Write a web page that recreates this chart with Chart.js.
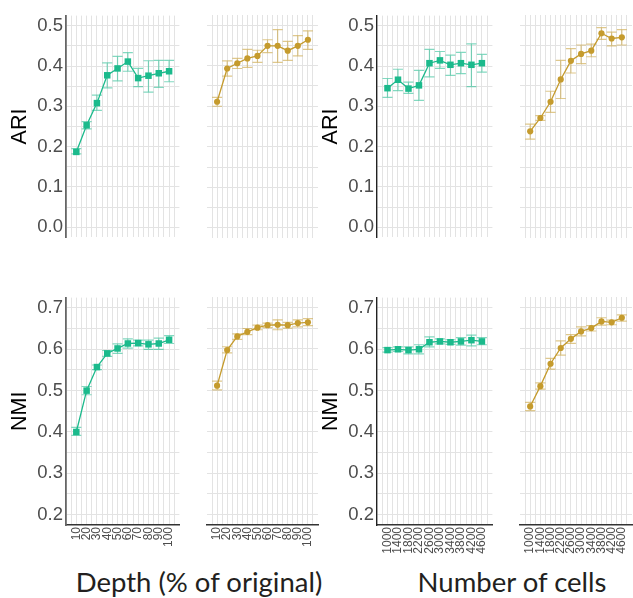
<!DOCTYPE html>
<html>
<head>
<meta charset="utf-8">
<script src="https://cdn.jsdelivr.net/npm/chart.js@4.4.1/dist/chart.umd.min.js"></script>
<style>
  html, body { margin: 0; padding: 0; background: #fff; }
  #stage { position: relative; width: 633px; height: 598px; overflow: hidden; }
  #stage canvas { position: absolute; }
  .xtitle {
    position: absolute; top: 568px; transform: translateX(-50%);
    font-family: "Lato", sans-serif; font-size: 27.5px; line-height: 27px;
    color: #231f20; white-space: nowrap;
  }
</style>
</head>
<body>
<div id="stage">
  <div class="xtitle" style="left:199px">Depth (% of original)</div>
  <div class="xtitle" style="left:512px">Number of cells</div>
</div>
<script>
/* 2x4 grid of small ggplot-style panels: ARI / NMI vs depth and number of cells */

const depthPct = [10, 20, 30, 40, 50, 60, 70, 80, 90, 100];
const cellCounts = [1000, 1400, 1800, 2200, 2600, 3000, 3400, 3800, 4200, 4600];

const ariTicks = [0.0, 0.1, 0.2, 0.3, 0.4, 0.5];
const nmiTicks = [0.2, 0.3, 0.4, 0.5, 0.6, 0.7];

// ARI vs depth
const ariDepthGreen   = [0.187, 0.253, 0.308, 0.377, 0.394, 0.411, 0.370, 0.376, 0.382, 0.387];
const ariDepthGreenLo = [0.182, 0.244, 0.290, 0.346, 0.363, 0.387, 0.349, 0.335, 0.347, 0.361];
const ariDepthGreenHi = [0.195, 0.262, 0.328, 0.408, 0.424, 0.433, 0.394, 0.413, 0.414, 0.414];
const ariDepthGold    = [0.311, 0.393, 0.406, 0.418, 0.424, 0.449, 0.449, 0.437, 0.449, 0.464];
const ariDepthGoldLo  = [0.300, 0.374, 0.393, 0.396, 0.408, 0.432, 0.408, 0.413, 0.424, 0.440];
const ariDepthGoldHi  = [0.322, 0.412, 0.418, 0.440, 0.438, 0.464, 0.489, 0.460, 0.474, 0.486];

// ARI vs number of cells
const ariCellsGreen   = [0.345, 0.366, 0.344, 0.352, 0.407, 0.414, 0.403, 0.407, 0.403, 0.407];
const ariCellsGreenLo = [0.322, 0.339, 0.332, 0.315, 0.373, 0.394, 0.377, 0.381, 0.349, 0.385];
const ariCellsGreenHi = [0.369, 0.392, 0.360, 0.389, 0.441, 0.436, 0.427, 0.434, 0.455, 0.429];
const ariCellsGold    = [0.238, 0.271, 0.311, 0.366, 0.412, 0.429, 0.437, 0.480, 0.467, 0.470];
const ariCellsGoldLo  = [0.219, 0.265, 0.285, 0.319, 0.382, 0.405, 0.422, 0.465, 0.449, 0.451];
const ariCellsGoldHi  = [0.256, 0.277, 0.337, 0.413, 0.442, 0.451, 0.453, 0.494, 0.483, 0.489];

// NMI vs depth
const nmiDepthGreen   = [0.400, 0.500, 0.557, 0.590, 0.602, 0.614, 0.615, 0.612, 0.614, 0.623];
const nmiDepthGreenLo = [0.392, 0.490, 0.551, 0.583, 0.590, 0.603, 0.608, 0.600, 0.600, 0.614];
const nmiDepthGreenHi = [0.411, 0.510, 0.562, 0.597, 0.613, 0.625, 0.622, 0.622, 0.627, 0.633];
const nmiDepthGold    = [0.511, 0.597, 0.630, 0.641, 0.651, 0.657, 0.658, 0.657, 0.662, 0.664];
const nmiDepthGoldLo  = [0.501, 0.590, 0.623, 0.634, 0.646, 0.651, 0.646, 0.650, 0.653, 0.656];
const nmiDepthGoldHi  = [0.522, 0.605, 0.636, 0.649, 0.657, 0.662, 0.670, 0.664, 0.670, 0.673];

// NMI vs number of cells
const nmiCellsGreen   = [0.598, 0.600, 0.598, 0.600, 0.617, 0.619, 0.617, 0.619, 0.622, 0.619];
const nmiCellsGreenLo = [0.593, 0.595, 0.589, 0.589, 0.606, 0.613, 0.612, 0.610, 0.608, 0.611];
const nmiCellsGreenHi = [0.604, 0.606, 0.606, 0.611, 0.630, 0.625, 0.623, 0.628, 0.634, 0.628];
const nmiCellsGold    = [0.461, 0.510, 0.564, 0.602, 0.624, 0.642, 0.650, 0.666, 0.664, 0.675];
const nmiCellsGoldLo  = [0.451, 0.503, 0.551, 0.585, 0.613, 0.631, 0.643, 0.657, 0.658, 0.667];
const nmiCellsGoldHi  = [0.471, 0.518, 0.577, 0.619, 0.634, 0.653, 0.656, 0.675, 0.669, 0.682];

const GREEN = "#1bba8c";
const GREEN_ERR = "rgba(27,186,140,0.55)";
const GOLD = "#c59b2d";
const GOLD_ERR = "rgba(197,155,45,0.55)";
const FONT = "'Liberation Sans', Arial, sans-serif";
const GRID = "#e3e3e3";

// panel geometry (px)
const columns = [
  { left: 66, width: 118, axisW: 66, axisColor: "#666", axisWidth: 1.8 },
  { left: 203, width: 119, axisW: 0 },
  { left: 377, width: 120, axisW: 66, axisColor: "#222", axisWidth: 1.4 },
  { left: 516, width: 120, axisW: 0 },
];
const rows = [
  { top: 11, height: 231, title: "ARI", ticks: ariTicks, min: -0.025, max: 0.525, xAxis: false },
  { top: 293, height: 232, title: "NMI", ticks: nmiTicks, min: 0.175, max: 0.725, xAxis: true },
];
const X_AXIS_H = 34;

const panels = [
  { row: 0, col: 0, xs: depthPct, ys: ariDepthGreen, lo: ariDepthGreenLo, hi: ariDepthGreenHi, kind: "green" },
  { row: 0, col: 1, xs: depthPct, ys: ariDepthGold, lo: ariDepthGoldLo, hi: ariDepthGoldHi, kind: "gold" },
  { row: 0, col: 2, xs: cellCounts, ys: ariCellsGreen, lo: ariCellsGreenLo, hi: ariCellsGreenHi, kind: "green" },
  { row: 0, col: 3, xs: cellCounts, ys: ariCellsGold, lo: ariCellsGoldLo, hi: ariCellsGoldHi, kind: "gold" },
  { row: 1, col: 0, xs: depthPct, ys: nmiDepthGreen, lo: nmiDepthGreenLo, hi: nmiDepthGreenHi, kind: "green" },
  { row: 1, col: 1, xs: depthPct, ys: nmiDepthGold, lo: nmiDepthGoldLo, hi: nmiDepthGoldHi, kind: "gold" },
  { row: 1, col: 2, xs: cellCounts, ys: nmiCellsGreen, lo: nmiCellsGreenLo, hi: nmiCellsGreenHi, kind: "green" },
  { row: 1, col: 3, xs: cellCounts, ys: nmiCellsGold, lo: nmiCellsGoldLo, hi: nmiCellsGoldHi, kind: "gold" },
];

// major values plus half-step minor lines, like ggplot's minor grid
const withMinor = (values, min, max) => {
  const step = values[1] - values[0];
  const out = [];
  for (let i = -1; i < values.length; i++) {
    const base = i < 0 ? values[0] - step : values[i];
    if (i >= 0) out.push(base);
    out.push(base + step / 2);
  }
  return out.filter((v) => v > min && v < max).sort((a, b) => a - b);
};
const isMajor = (v, list) => list.some((m) => Math.abs(m - v) < 1e-9);

const errorBars = {
  id: "errorBars",
  beforeDatasetsDraw(chart) {
    const { ctx, scales: { x, y } } = chart;
    chart.data.datasets.forEach((ds) => {
      if (!ds.lo) return;
      ctx.save();
      ctx.strokeStyle = ds.errColor;
      ctx.lineWidth = 1.2;
      ds.data.forEach((pt, i) => {
        const px = x.getPixelForValue(pt.x);
        const top = y.getPixelForValue(ds.hi[i]);
        const bot = y.getPixelForValue(ds.lo[i]);
        ctx.beginPath();
        ctx.moveTo(px, top); ctx.lineTo(px, bot);
        ctx.moveTo(px - 5, top); ctx.lineTo(px + 5, top);
        ctx.moveTo(px - 5, bot); ctx.lineTo(px + 5, bot);
        ctx.stroke();
      });
      ctx.restore();
    });
  },
};

const stage = document.getElementById("stage");

panels.forEach((p) => {
  const col = columns[p.col];
  const row = rows[p.row];
  const xH = row.xAxis ? X_AXIS_H : 0;

  const canvas = document.createElement("canvas");
  canvas.width = col.axisW + col.width;
  canvas.height = row.height + xH;
  canvas.style.left = (col.left - col.axisW) + "px";
  canvas.style.top = row.top + "px";
  stage.appendChild(canvas);

  const step = p.xs[1] - p.xs[0];
  const xMin = p.xs[0] - step;
  const xMax = p.xs[p.xs.length - 1] + step;
  const xGrid = withMinor(p.xs, xMin, xMax);
  const yGrid = withMinor(row.ticks, row.min, row.max);
  const color = p.kind === "green" ? GREEN : GOLD;

  new Chart(canvas, {
    type: "line",
    data: {
      datasets: [{
        data: p.xs.map((x, i) => ({ x, y: p.ys[i] })),
        lo: p.lo,
        hi: p.hi,
        errColor: p.kind === "green" ? GREEN_ERR : GOLD_ERR,
        borderColor: color,
        borderWidth: 1.3,
        tension: 0,
        pointStyle: p.kind === "green" ? "rect" : "circle",
        pointRadius: p.kind === "green" ? 4.6 : 3.1,
        pointBackgroundColor: color,
        pointBorderWidth: 0,
        clip: false,
      }],
    },
    options: {
      responsive: false,
      animation: false,
      devicePixelRatio: 1,
      layout: { padding: 0 },
      plugins: { legend: { display: false }, tooltip: { enabled: false } },
      scales: {
        x: {
          type: "linear",
          min: xMin,
          max: xMax,
          bounds: "data",
          afterBuildTicks: (scale) => { scale.ticks = xGrid.map((value) => ({ value })); },
          afterFit: (scale) => {
            scale.height = xH;
            scale.paddingLeft = 0;
            scale.paddingRight = 0;
          },
          grid: { color: GRID, lineWidth: 1, drawTicks: false },
          border: { display: row.xAxis, color: "#333", width: 1.4 },
          ticks: {
            display: row.xAxis,
            autoSkip: false,
            minRotation: 90,
            maxRotation: 90,
            padding: 2,
            color: "#4d4d4d",
            font: { family: FONT, size: 12 },
            callback: (value) => (isMajor(value, p.xs) ? String(value) : ""),
          },
        },
        y: {
          min: row.min,
          max: row.max,
          bounds: "data",
          afterBuildTicks: (scale) => { scale.ticks = yGrid.map((value) => ({ value })); },
          afterFit: (scale) => {
            scale.width = col.axisW;
            scale.paddingTop = 0;
            scale.paddingBottom = 0;
          },
          grid: { color: GRID, lineWidth: 1, drawTicks: false },
          border: { display: col.axisW > 0, color: col.axisColor, width: col.axisWidth },
          ticks: {
            display: col.axisW > 0,
            autoSkip: false,
            padding: 3,
            color: "#4d4d4d",
            font: { family: FONT, size: 18.5 },
            callback: (value) => (isMajor(value, row.ticks) ? value.toFixed(1) : ""),
          },
          title: {
            display: col.axisW > 0,
            text: row.title,
            color: "#000",
            font: { family: FONT, size: 21.5 },
            padding: { top: 7, bottom: 0 },
          },
        },
      },
    },
    plugins: [errorBars],
  });
});
</script>
</body>
</html>
